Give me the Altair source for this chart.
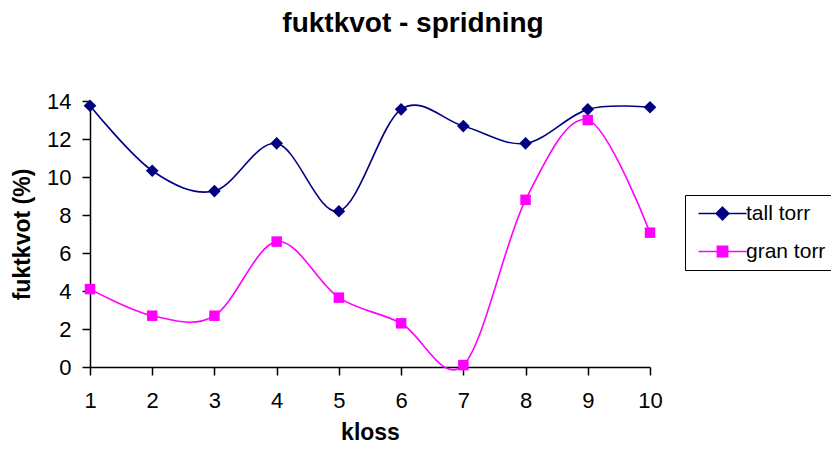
import altair as alt
import pandas as pd

kloss = [1, 2, 3, 4, 5, 6, 7, 8, 9, 10]
tall_torr = [13.75, 10.33, 9.26, 11.77, 8.2, 13.56, 12.68, 11.77, 13.56, 13.67]
gran_torr = [4.1, 2.7, 2.7, 6.6, 3.65, 2.3, 0.1, 8.8, 13.0, 7.07]
series = ["tall torr", "gran torr"]
colors = ["#000080", "#FF00FF"]
shapes = ["diamond", "square"]
marker_sizes = [160, 110]
y_ticks = [0, 2, 4, 6, 8, 10, 12, 14]

rows = []
for name, vals in zip(series, [tall_torr, gran_torr]):
    for k, v in zip(kloss, vals):
        rows.append({"kloss": k, "fuktkvot": v, "serie": name})
df = pd.DataFrame(rows)

FONT = "Arial, Liberation Sans, sans-serif"

x = alt.X(
    "kloss:Q",
    scale=alt.Scale(domain=[1, 10], nice=False, zero=False),
    axis=alt.Axis(
        values=kloss, format="d", grid=False, title="kloss",
        labelFontSize=22, labelFont=FONT, labelColor="black", labelPadding=15,
        labelOverlap=False, labelBound=False, labelFlush=False,
        tickSize=8, tickColor="black", tickWidth=1.5,
        domainColor="black", domainWidth=1.5,
        titleFont=FONT, titleFontSize=23, titleFontWeight="bold", titleColor="black",
        titleX=280, titleY=72, titleBaseline="alphabetic", titleAlign="center",
    ),
)
y = alt.Y(
    "fuktkvot:Q",
    scale=alt.Scale(domain=[0, 14], nice=False, zero=True),
    axis=alt.Axis(
        values=y_ticks, grid=False, title="fuktkvot (%)",
        labelFontSize=22, labelFont=FONT, labelColor="black", labelPadding=11,
        tickSize=8, tickColor="black", tickWidth=1.5,
        domainColor="black", domainWidth=1.5,
        titleFont=FONT, titleFontSize=23, titleFontWeight="bold", titleColor="black",
        titleX=-68, titleY=133, titleAngle=-90, titleAlign="center", titleBaseline="middle",
    ),
)

base = alt.Chart(df)

layers = []
for name, col in zip(series, colors):
    layers.append(
        base.transform_filter(alt.datum.serie == name)
        .mark_line(interpolate="cardinal", tension=0, strokeWidth=1.6, color=col)
        .encode(x=x, y=y)
    )
for name, col, shp, sz in zip(series, colors, shapes, marker_sizes):
    layers.append(
        base.transform_filter(alt.datum.serie == name)
        .mark_point(shape=shp, filled=True, size=sz, opacity=1, color=col)
        .encode(x=x, y=y)
    )

legend_paths = [
    "M-4,0H4M0,-1.05L1.05,0L0,1.05L-1.05,0Z",
    "M-4,0H4M-0.85,-0.85H0.85V0.85H-0.85Z",
]

leg = alt.Legend(
    title=None, orient="none", legendX=595, legendY=94,
    padding=8, strokeColor="black", fillColor="white",
    labelFontSize=21, labelFont=FONT, labelColor="black",
    symbolSize=144, symbolStrokeWidth=1.6, symbolOffset=19, labelOffset=13,
    rowPadding=16, symbolOpacity=1,
)

# legend-only layer: no rows drawn, entries come from the explicit domains
legend_layer = base.transform_filter("datum.kloss < 0").mark_point(filled=True).encode(
    x=x, y=y,
    fill=alt.Fill("serie:N", scale=alt.Scale(domain=series, range=colors), legend=leg),
    stroke=alt.Stroke("serie:N", scale=alt.Scale(domain=series, range=colors), legend=leg),
    shape=alt.Shape("serie:N", scale=alt.Scale(domain=series, range=legend_paths), legend=leg),
)
layers.append(legend_layer)

chart = alt.layer(*layers).properties(
    width=560,
    height=266,
    autosize=alt.AutoSizeParams(type="none"),
    padding={"left": 82, "top": 93, "right": 181, "bottom": 77},
    background="white",
    title=alt.TitleParams(
        "fuktkvot - spridning", font=FONT, fontSize=28, fontWeight="bold",
        color="black", anchor="middle", frame="group", dx=43, offset=30,
        baseline="alphabetic",
    ),
).configure_view(stroke=None)

chart.save("out.html", embed_options={"renderer": "svg", "actions": False})
